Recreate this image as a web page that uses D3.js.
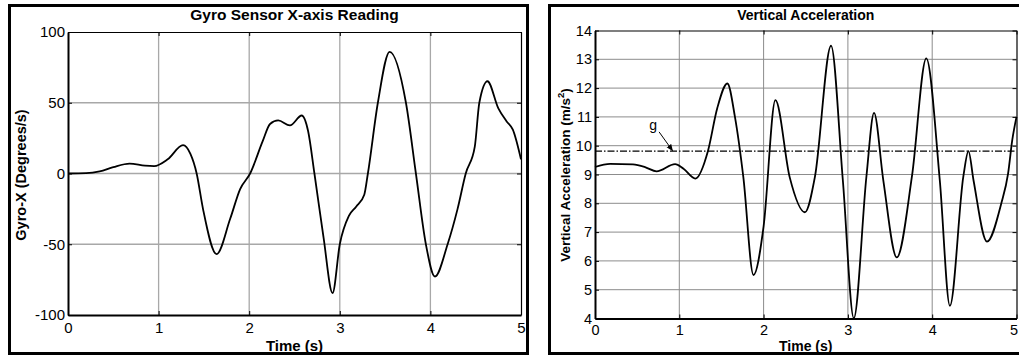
<!DOCTYPE html>
<html><head><meta charset="utf-8">
<script src="https://cdn.jsdelivr.net/npm/d3@7"></script>
<style>
html,body{margin:0;padding:0;background:#fff;}
svg{display:block;}
text{font-family:"Liberation Sans",Arial,Helvetica,sans-serif;fill:#000;}
</style></head>
<body>
<svg id="chart" width="1019" height="356"></svg>
<script>
// ---- Data: Gyro X-axis ----
const gyroTime  = [0, 0.2, 0.35, 0.5, 0.68, 0.85, 0.95, 1.1, 1.27, 1.35, 1.42, 1.49, 1.64, 1.79, 1.9, 2.01, 2.15, 2.23, 2.32, 2.45, 2.58, 2.65, 2.72, 2.82, 2.92, 3.0, 3.1, 3.18, 3.27, 3.31, 3.42, 3.55, 3.73, 3.84, 3.95, 4.05, 4.19, 4.3, 4.39, 4.49, 4.54, 4.63, 4.75, 4.84, 4.91, 5.0];
const gyroValue = [0, 0.2, 1.5, 4.5, 7, 5.5, 5.2, 10, 20, 14, 0, -25, -57, -32, -11, 0, 23, 35, 37.5, 34, 41, 30, 0, -45, -84.5, -50, -30, -23.5, -15, 0, 50, 86, 50, 0, -50, -72.8, -50, -25, 0, 19, 50, 65.2, 46, 37, 31, 10];
const gyroXTicks = [0, 1, 2, 3, 4, 5];
const gyroYTicks = [-100, -50, 0, 50, 100];

// ---- Data: Vertical acceleration ----
const accTime  = [0, 0.18, 0.45, 0.6, 0.73, 0.95, 1.05, 1.19, 1.34, 1.45, 1.57, 1.66, 1.76, 1.88, 2.0, 2.14, 2.31, 2.49, 2.61, 2.8, 2.94, 3.07, 3.22, 3.31, 3.42, 3.58, 3.76, 3.93, 4.09, 4.21, 4.37, 4.43, 4.49, 4.65, 4.82, 4.9, 4.95, 5.0];
const accValue = [9.26, 9.37, 9.35, 9.25, 9.11, 9.36, 9.2, 8.86, 9.82, 11.3, 12.16, 11.0, 8.9, 5.51, 7.2, 11.58, 8.9, 7.69, 8.94, 13.47, 8.8, 4.01, 8.94, 11.14, 8.8, 6.12, 8.94, 13.03, 8.8, 4.44, 8.94, 9.81, 8.8, 6.67, 8.0, 9.03, 10.2, 11.0];
const accXTicks = [0, 1, 2, 3, 4, 5];
const accYTicks = [4, 5, 6, 7, 8, 9, 10, 11, 12, 13, 14];
const gravity = 9.81;

const svg = d3.select("#chart");
const FONT = '"Liberation Sans",Arial,Helvetica,sans-serif';

// panel frames
svg.append("rect").attr("x", 9.5).attr("y", 5.5).attr("width", 518).attr("height", 348)
  .attr("fill", "none").attr("stroke", "#000").attr("stroke-width", 3);
svg.append("rect").attr("x", 549.5).attr("y", 5.5).attr("width", 500).attr("height", 348)
  .attr("fill", "none").attr("stroke", "#000").attr("stroke-width", 3);

function drawPanel(o) {
  const x = d3.scaleLinear().domain(o.xDomain).range([o.left, o.right]);
  const y = d3.scaleLinear().domain(o.yDomain).range([o.bottom, o.top]);
  const g = svg.append("g");

  // grid
  g.append("g").selectAll("line").data(o.xTicks.slice(1, -1)).join("line")
    .attr("x1", d => x(d)).attr("x2", d => x(d)).attr("y1", o.top).attr("y2", o.bottom)
    .attr("stroke", o.gridColor).attr("stroke-width", o.gridWidth);
  g.append("g").selectAll("line").data(o.yTicks.slice(1, -1)).join("line")
    .attr("y1", d => y(d)).attr("y2", d => y(d)).attr("x1", o.left).attr("x2", o.right)
    .attr("stroke", o.gridColor).attr("stroke-width", o.gridWidth);

  // axes
  const fmt = d => String(d);
  const ax = [
    g.append("g").attr("transform", `translate(0,${o.bottom})`)
      .call(d3.axisBottom(x).tickValues(o.xTicks).tickFormat(fmt).tickSize(-4).tickSizeOuter(0).tickPadding(o.xPad)),
    g.append("g").attr("transform", `translate(0,${o.top})`)
      .call(d3.axisTop(x).tickValues(o.xTicks).tickFormat("").tickSize(-4).tickSizeOuter(0)),
    g.append("g").attr("transform", `translate(${o.left},0)`)
      .call(d3.axisLeft(y).tickValues(o.yTicks).tickFormat(fmt).tickSize(-4).tickSizeOuter(0).tickPadding(o.yPad)),
    g.append("g").attr("transform", `translate(${o.right},0)`)
      .call(d3.axisRight(y).tickValues(o.yTicks).tickFormat("").tickSize(-4).tickSizeOuter(0))
  ];
  ax.forEach((a, i) => {
    a.selectAll("text").attr("font-family", FONT).attr("font-size", o.tickFont).attr("fill", "#000");
    a.selectAll("line").attr("stroke", "#000");
    a.select(".domain").attr("stroke", "#000").attr("stroke-width", (i === 0 || i === 2) ? 2 : 1.2);
  });
  if (o.lastXLabelShift) {
    ax[0].selectAll(".tick text").filter(d => d === o.xDomain[1]).attr("dx", o.lastXLabelShift);
  }

  // extra overlay line(s)
  if (o.hline !== undefined) {
    g.append("line").attr("x1", o.left).attr("x2", o.right)
      .attr("y1", y(o.hline)).attr("y2", y(o.hline))
      .attr("stroke", "#000").attr("stroke-width", 1.2).attr("stroke-dasharray", "7,2,1.5,2");
  }

  // data line
  const line = d3.line().x((d, i) => x(o.t[i])).y(d => y(d)).curve(d3.curveMonotoneX);
  g.append("path").datum(o.v).attr("d", line)
    .attr("fill", "none").attr("stroke", "#000").attr("stroke-width", 1.8).attr("stroke-linejoin", "round");

  // title
  svg.append("text").attr("x", (o.left + o.right) / 2).attr("y", 20)
    .attr("text-anchor", "middle").attr("font-weight", "bold").attr("font-size", o.titleFont).text(o.title);
  // x label
  svg.append("text").attr("x", (o.left + o.right) / 2).attr("y", 351)
    .attr("text-anchor", "middle").attr("font-weight", "bold").attr("font-size", o.labelFont).text(o.xLabel);
  return { x, y, g };
}

drawPanel({
  xDomain: [0, 5], yDomain: [-100, 100], left: 68, right: 521, top: 32, bottom: 315,
  xTicks: gyroXTicks, yTicks: gyroYTicks, t: gyroTime, v: gyroValue,
  gridColor: "#a8a8a8", gridWidth: 1.3, tickFont: "15px", titleFont: "15.5px", labelFont: "15px",
  xPad: 7, yPad: 3,
  title: "Gyro Sensor X-axis Reading", xLabel: "Time (s)"
});
svg.append("text").attr("transform", "translate(26,175) rotate(-90)")
  .attr("text-anchor", "middle").attr("font-weight", "bold").attr("font-size", "14.5px")
  .text("Gyro-X (Degrees/s)");

const P = drawPanel({
  xDomain: [0, 5], yDomain: [4, 14], left: 595, right: 1016.5, top: 30.5, bottom: 318.5,
  xTicks: accXTicks, yTicks: accYTicks, t: accTime, v: accValue,
  gridColor: "#8c8c8c", gridWidth: 1, tickFont: "14.5px", titleFont: "14px", labelFont: "14px",
  xPad: 6, yPad: 3, hline: gravity, lastXLabelShift: -3,
  title: "Vertical Acceleration", xLabel: "Time (s)"
});
const yl = svg.append("text").attr("transform", "translate(570,175) rotate(-90)")
  .attr("text-anchor", "middle").attr("font-weight", "bold").attr("font-size", "13.5px");
yl.append("tspan").text("Vertical Acceleration (m/s");
yl.append("tspan").attr("dy", -6).attr("font-size", "9.5px").text("2");
yl.append("tspan").attr("dy", 6).text(")");

// "g" annotation with arrow
const defs = svg.append("defs");
defs.append("marker").attr("id", "arrow").attr("viewBox", "0 0 10 10").attr("refX", 9).attr("refY", 5)
  .attr("markerWidth", 7).attr("markerHeight", 7).attr("orient", "auto")
  .append("path").attr("d", "M0,1 L10,5 L0,9 Z").attr("fill", "#000");
svg.append("text").attr("x", P.x(0.69)).attr("y", P.y(10.68) + 4)
  .attr("text-anchor", "middle").attr("font-size", "14px").text("g");
svg.append("line").attr("x1", P.x(0.76)).attr("y1", P.y(10.48))
  .attr("x2", P.x(0.92)).attr("y2", P.y(gravity) - 0.5)
  .attr("stroke", "#000").attr("stroke-width", 1).attr("marker-end", "url(#arrow)");
</script>
</body></html>
